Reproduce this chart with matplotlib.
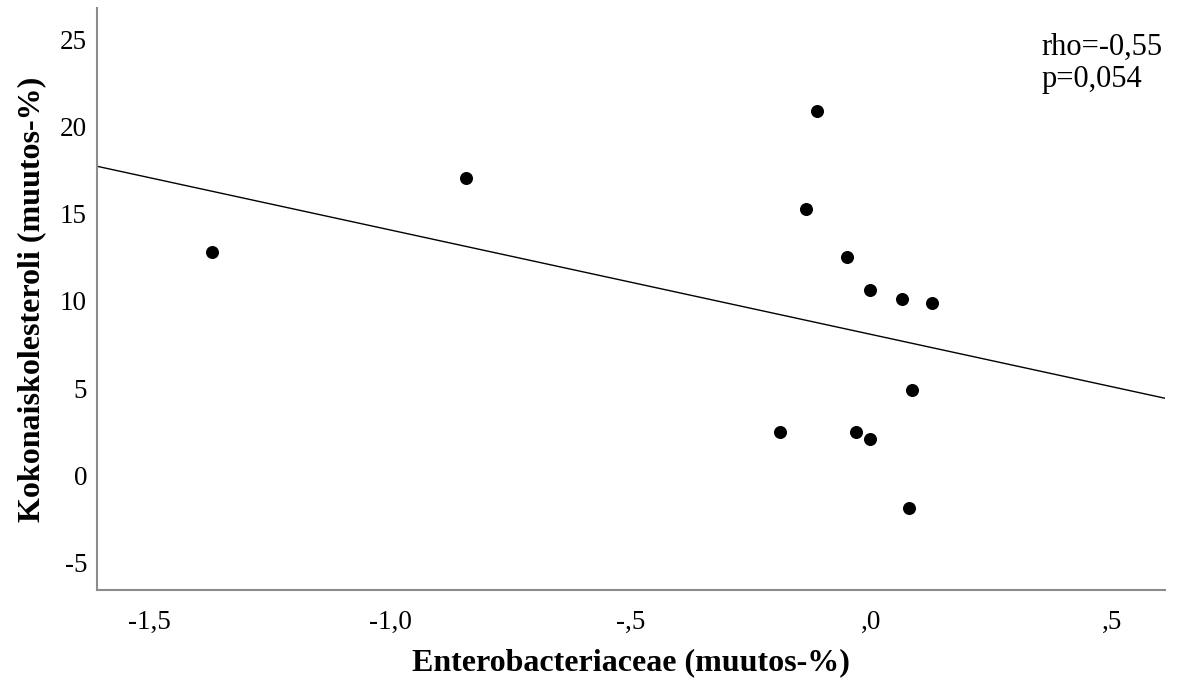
import numpy as np
import matplotlib
matplotlib.use('Agg')
import matplotlib.pyplot as plt

# Data
entero = [-1.37, -0.842, -0.112, -0.135, -0.050, -0.002, 0.064, 0.127,
          0.085, -0.189, -0.031, -0.002, 0.079]
kolesteroli = [12.8, 17.06, 20.9, 15.3, 12.5, 10.6, 10.1, 9.9,
               4.9, 2.47, 2.5, 2.1, -1.9]

x_ticks = [-1.5, -1.0, -0.5, 0.0, 0.5]
x_labels = ['-1,5', '-1,0', '-,5', ',0', ',5']
y_ticks = [-5, 0, 5, 10, 15, 20, 25]
y_labels = ['-5', '0', '5', '10', '15', '20', '25']

plt.rcParams['font.family'] = ['Liberation Serif', 'DejaVu Serif']

fig = plt.figure(figsize=(11.8, 6.83), dpi=100)
ax = fig.add_axes([0.082, 0.136, 0.905, 0.852])

ax.scatter(entero, kolesteroli, s=70, color='black', zorder=3)

# Linear fit line across the whole x range
xlim = (-1.61, 0.61)
k, b = np.polyfit(entero, kolesteroli, 1)
xs = np.array(xlim)
ax.plot(xs, k * xs + b, color='black', linewidth=1.0)

ax.set_xlim(xlim)
ax.set_ylim(-6.6, 26.8)
ax.set_xticks(x_ticks)
ax.set_xticklabels(x_labels)
ax.set_yticks(y_ticks)
ax.set_yticklabels(y_labels)
ax.tick_params(length=0, labelsize=19.5)
ax.tick_params(axis='x', pad=14)
ax.tick_params(axis='y', pad=7)

for s in ['top', 'right']:
    ax.spines[s].set_visible(False)
for s in ['left', 'bottom']:
    ax.spines[s].set_color('#8c8c8c')
    ax.spines[s].set_linewidth(1.5)

ax.set_xlabel('Enterobacteriaceae (muutos-%)', fontsize=23, fontweight='bold', labelpad=10)
ax.set_ylabel('Kokonaiskolesteroli (muutos-%)', fontsize=23, fontweight='bold', labelpad=10)

ax.text(0.885, 0.958, 'rho=-0,55\np=0,054', transform=ax.transAxes,
        fontsize=22, va='top', ha='left', linespacing=1.15)

fig.savefig('out.png', dpi=100)
